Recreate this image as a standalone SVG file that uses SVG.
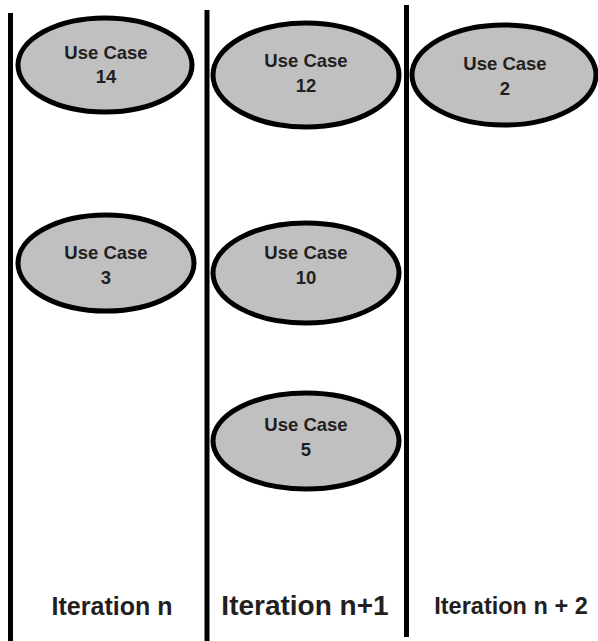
<svg xmlns="http://www.w3.org/2000/svg" width="598" height="641" viewBox="0 0 598 641">
<style>
.uc ellipse{fill:#c0c0c0;stroke:#000;stroke-width:5}
.uc text{font-family:"Liberation Sans",Arial,sans-serif;font-weight:bold;font-size:18.5px;fill:#231f20;text-anchor:middle}
.sep{stroke:#000;stroke-width:5}
.lbl{font-family:"Liberation Sans",Arial,sans-serif;font-weight:bold;fill:#231f20;text-anchor:middle}
</style>
<g id="lanes">
<line class="sep" x1="10.5" y1="13" x2="10.5" y2="641"/>
<line class="sep" x1="207" y1="10" x2="207" y2="641"/>
<line class="sep" x1="406.5" y1="5" x2="406.5" y2="637"/>
</g>
<g id="uc14" class="uc"><ellipse cx="105" cy="65" rx="87" ry="47"/><text x="106" y="59">Use Case</text><text x="106" y="83">14</text></g>
<g id="uc12" class="uc"><ellipse cx="306" cy="75" rx="93" ry="52"/><text x="306" y="67">Use Case</text><text x="306" y="92">12</text></g>
<g id="uc2" class="uc"><ellipse cx="504" cy="75" rx="92" ry="50"/><text x="505" y="70">Use Case</text><text x="505" y="95">2</text></g>
<g id="uc3" class="uc"><ellipse cx="106" cy="263" rx="88" ry="48"/><text x="106" y="259">Use Case</text><text x="106" y="284">3</text></g>
<g id="uc10" class="uc"><ellipse cx="306" cy="273" rx="93" ry="50"/><text x="306" y="259">Use Case</text><text x="306" y="284">10</text></g>
<g id="uc5" class="uc"><ellipse cx="306" cy="441" rx="93" ry="48"/><text x="306" y="431">Use Case</text><text x="306" y="456">5</text></g>
<g id="labels">
<text class="lbl" x="112" y="615" font-size="25">Iteration n</text>
<text class="lbl" x="305" y="615" font-size="28">Iteration n+1</text>
<text class="lbl" x="511" y="614" font-size="23.5">Iteration n + 2</text>
</g>
</svg>
